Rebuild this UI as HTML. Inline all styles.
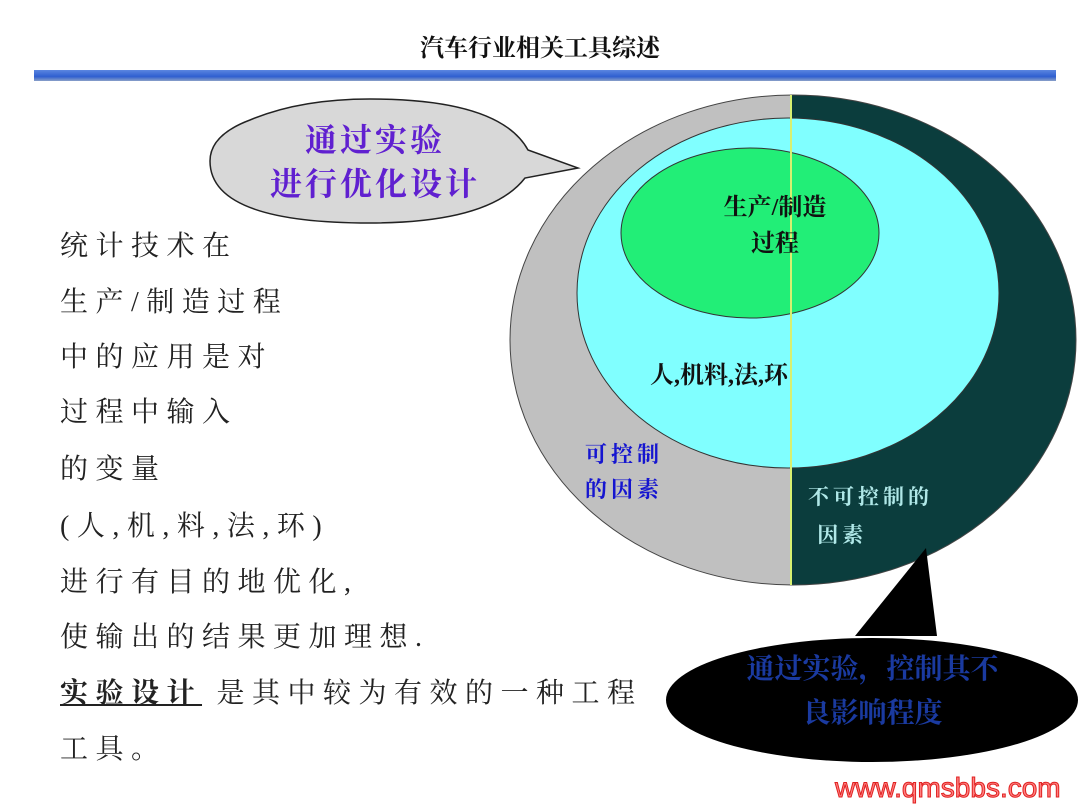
<!DOCTYPE html>
<html><head><meta charset="utf-8"><style>
body{margin:0;width:1080px;height:810px;background:#fff;overflow:hidden;position:relative;font-family:"Liberation Serif","Noto Serif CJK SC",serif}
.t{position:absolute;white-space:nowrap}
.l{position:absolute;left:60px;font-size:28px;letter-spacing:7.5px;color:#222;line-height:30px}
</style></head><body>
<div class="t" style="left:0;width:1080px;text-align:center;top:28px;font-size:24px;font-weight:bold;color:#111">汽车行业相关工具综述</div>
<div style="position:absolute;left:34px;top:70px;width:1022px;height:11px;background:linear-gradient(#5b86e0,#2f5fd0 60%,#8aa0c8)"></div>
<svg width="1080" height="810" style="position:absolute;left:0;top:0">
<defs><clipPath id="c"><ellipse cx="793" cy="340" rx="283" ry="245"/></clipPath></defs>
<path d="M250,120 Q300,99 370,99 Q500,99 528,150 L578,168 L525,178 Q490,223 370,223 Q210,223 210,161 Q210,135 250,120Z" fill="#d8d8d8" stroke="#222" stroke-width="1.5"/>
<g clip-path="url(#c)">
<rect x="500" y="90" width="291" height="500" fill="#c0c0c0"/>
<rect x="791" y="90" width="300" height="500" fill="#0b3d3d"/>
</g>
<ellipse cx="793" cy="340" rx="283" ry="245" fill="none" stroke="#444" stroke-width="1"/>
<ellipse cx="788" cy="293" rx="211" ry="175" fill="#80ffff" stroke="#333" stroke-width="1"/>
<ellipse cx="750" cy="233" rx="129" ry="85" fill="#22ee77" stroke="#333" stroke-width="1"/>
<line x1="791" y1="95" x2="791" y2="585" stroke="#d8f070" stroke-width="2"/>
<path d="M855,636 L926,548 L937,636Z" fill="#000"/>
<ellipse cx="872" cy="700" rx="206" ry="62" fill="#000"/>
</svg>
<div class="t" style="left:260px;top:118px;width:230px;text-align:center;font-size:32px;line-height:44px;color:#6020d0;font-weight:bold;letter-spacing:3px">通过实验<br>进行优化设计</div>
<div class="t" style="left:690px;top:190px;width:170px;text-align:center;font-size:24px;line-height:36px;font-weight:bold;color:#111">生产/制造<br>过程</div>
<div class="t" style="left:650px;top:355px;font-size:24px;font-weight:bold;color:#111">人,机料,法,环</div>
<div class="t" style="left:585px;top:437px;font-size:22px;line-height:35px;font-weight:bold;color:#1515d0;letter-spacing:4px">可控制<br>的因素</div>
<div class="t" style="left:808px;top:478px;font-size:21px;line-height:38px;font-weight:bold;color:#b0e8e8;letter-spacing:4px">不可控制的<br>&nbsp;因素</div>
<div class="t" style="left:700px;top:648px;width:345px;text-align:center;font-size:28px;line-height:44px;color:#1a3aa0;font-weight:bold">通过实验，控制其不<br>良影响程度</div>
<div class="l" style="top:232px">统计技术在</div>
<div class="l" style="top:288px">生产/制造过程</div>
<div class="l" style="top:343px">中的应用是对</div>
<div class="l" style="top:398px">过程中输入</div>
<div class="l" style="top:455px">的变量</div>
<div class="l" style="top:512px">(人,机,料,法,环)</div>
<div class="l" style="top:568px">进行有目的地优化,</div>
<div class="l" style="top:623px">使输出的结果更加理想.</div>
<div class="l" style="top:679px"><b style="text-decoration:underline">实验设计</b> 是其中较为有效的一种工程</div>
<div class="l" style="top:735px">工具。</div>
<div class="t" style="left:835px;top:772px;font-size:28px;font-family:'Liberation Sans',sans-serif;color:#ff8080;-webkit-text-stroke:1px #e02020">www.qmsbbs.com</div>
</body></html>
